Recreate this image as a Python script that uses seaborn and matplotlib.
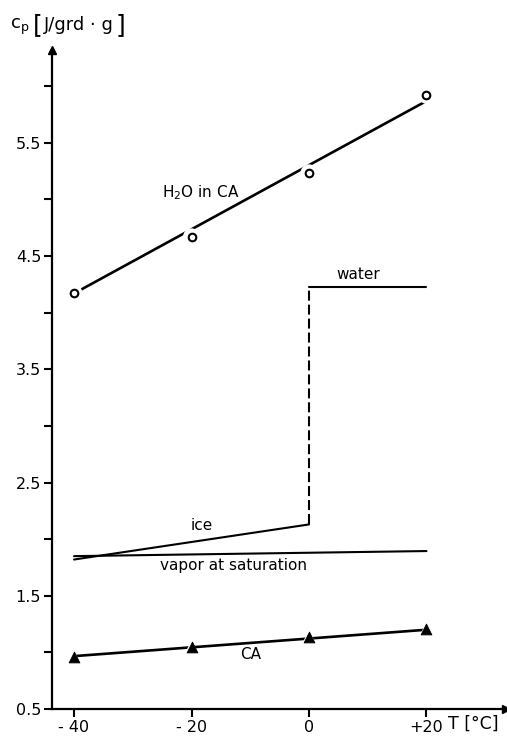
import matplotlib
matplotlib.use("Agg")
import matplotlib.pyplot as plt
import seaborn as sns
import pandas as pd

# Measured points
temps = [-40, -20, 0, 20]
h2o_in_ca = [4.17, 4.67, 5.235, 5.92]
ca = [0.96, 1.05, 1.14, 1.21]

# Straight-line fits through the measured points
fit_T = [-40, 20]
h2o_in_ca_fit = [4.17, 5.87]
ca_fit = [0.967, 1.20]

# Reference curves for pure water
water_T = [0, 20]
water_cp = [4.23, 4.23]
ice_T = [-40, 0]
ice_cp = [1.82, 2.13]
vapor_T = [-40, 20]
vapor_cp = [1.85, 1.895]
melt_T = [0, 0]
melt_cp = [2.13, 4.23]

y_major = [0.5, 1.5, 2.5, 3.5, 4.5, 5.5]
y_minor = [1.0, 2.0, 3.0, 4.0, 5.0, 6.0]
x_ticks = [-40, -20, 0, 20]
x_ticklabels = ["- 40", "- 20", "0", "+20"]

sns.set_style("ticks")
plt.rcParams["font.family"] = ["DejaVu Sans"]
plt.rcParams["mathtext.default"] = "regular"
plt.rcParams["text.color"] = "black"

W, H = 507, 739
fig = plt.figure(figsize=(W / 100, H / 100), dpi=100)
ax = fig.add_axes([52.3 / W, 1 - 709 / H, (505.8 - 52.3) / W, (709 - 50) / H])
ax.set_xlim(-43.7, 33.5)
ax.set_ylim(0.5, 6.32)

lw = 1.9
k = "black"

def line(x, y, **kw):
    df = pd.DataFrame({"x": x, "y": y})
    sns.lineplot(data=df, x="x", y="y", ax=ax, color=k, lw=kw.pop("lw", lw),
                 estimator=None, sort=False, zorder=2, **kw)

line(fit_T, h2o_in_ca_fit)
line(fit_T, ca_fit)
line(water_T, water_cp, lw=1.5)
line(ice_T, ice_cp, lw=1.5)
line(vapor_T, vapor_cp, lw=1.5)
line(melt_T, melt_cp, lw=1.5, linestyle=(0, (4.8, 1.9)))

# open circles with a white halo so the fit line breaks around them
pts = pd.DataFrame({"T": temps, "h2o": h2o_in_ca, "ca": ca})
sns.scatterplot(data=pts, x="T", y="h2o", ax=ax, marker="o", s=150,
                color="white", edgecolor="none", zorder=3)
sns.scatterplot(data=pts, x="T", y="h2o", ax=ax, marker="o", s=30,
                facecolor="white", edgecolor=k, linewidth=1.5, zorder=4)
sns.scatterplot(data=pts, x="T", y="ca", ax=ax, marker="^", s=90,
                color="white", edgecolor="none", zorder=3)
sns.scatterplot(data=pts, x="T", y="ca", ax=ax, marker="^", s=60,
                color=k, edgecolor=k, zorder=4)

# curve labels
fs = 11
ax.text(-18.4, 5.06, "H$_2$O in CA", fontsize=fs, ha="center", va="center")
ax.text(8.3, 4.34, "water", fontsize=fs, ha="center", va="center")
ax.text(-18.2, 2.12, "ice", fontsize=fs, ha="center", va="center")
ax.text(-12.9, 1.77, "vapor at saturation", fontsize=fs, ha="center", va="center")
ax.text(-9.9, 0.98, "CA", fontsize=fs, ha="center", va="center")

# axes: only left and bottom, with arrow heads
sns.despine(ax=ax)
for s in ("left", "bottom"):
    ax.spines[s].set_linewidth(1.6)
    ax.spines[s].set_color(k)
ax.plot(1, 0, ">", color=k, ms=6, transform=ax.transAxes, clip_on=False)
ax.plot(0, 1, "^", color=k, ms=6, transform=ax.transAxes, clip_on=False)

ax.set_yticks(y_major)
ax.set_yticklabels([f"{v:.1f}" for v in y_major])
ax.set_yticks(y_minor, minor=True)
ax.set_xticks(x_ticks)
ax.set_xticklabels(x_ticklabels)
ax.tick_params(axis="both", which="both", direction="out", length=6,
               width=1.5, labelsize=11.5, colors=k, pad=2)
ax.set_xlabel("")
ax.set_ylabel("")

# y-axis title, laid out piece by piece with tall brackets
renderer = fig.canvas.get_renderer()
pieces = [("c$_p$", 13, 0, -27), ("[", 18, 3, -25), ("J/grd · g", 13, 2, -25),
          ("]", 18, 2, -25)]
xpos = 10
for txt, size, gap, ypix in pieces:
    xpos += gap
    t = fig.text(xpos / W, 1 + ypix / H, txt, fontsize=size,
                 ha="left", va="center")
    xpos = t.get_window_extent(renderer).x1

fig.text(448 / W, 1 - 724 / H, "T [°C]", fontsize=12.5, ha="left", va="center")

fig.savefig("out.png", dpi=100, facecolor="white")
